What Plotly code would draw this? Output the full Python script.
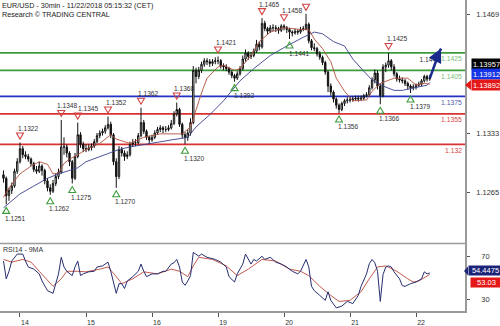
import plotly.graph_objects as go

FONT = "Liberation Sans, Arial, sans-serif"

# ---------------- data (hourly bars, index 0 = 14 Nov 00:00) ----------------
bar_start = -6
opens = [1.1285, 1.1281, 1.1261, 1.1267, 1.1272, 1.1289, 1.1300, 1.1315, 1.1308, 1.1306,
         1.1303, 1.1298, 1.1291, 1.1289, 1.1295, 1.1290, 1.1278, 1.1270, 1.1266, 1.1275,
         1.1283, 1.1288, 1.1317, 1.1317, 1.1310, 1.1300, 1.1281, 1.1306, 1.1331, 1.1320,
         1.1315, 1.1314, 1.1316, 1.1318, 1.1323, 1.1330, 1.1333, 1.1335, 1.1339, 1.1343,
         1.1331, 1.1300, 1.1283, 1.1314, 1.1310, 1.1306, 1.1308, 1.1320, 1.1322, 1.1322,
         1.1330, 1.1345, 1.1335, 1.1328, 1.1325, 1.1328, 1.1333, 1.1337, 1.1339, 1.1337,
         1.1337, 1.1339, 1.1344, 1.1355, 1.1360, 1.1343, 1.1331, 1.1328, 1.1333, 1.1345,
         1.1405, 1.1398, 1.1405, 1.1412, 1.1416, 1.1415, 1.1413, 1.1415, 1.1416, 1.1416,
         1.1410, 1.1409, 1.1407, 1.1403, 1.1399, 1.1396, 1.1401, 1.1407, 1.1418, 1.1425,
         1.1421, 1.1422, 1.1427, 1.1435, 1.1432, 1.1459, 1.1453, 1.1450, 1.1454, 1.1454,
         1.1453, 1.1451, 1.1456, 1.1454, 1.1452, 1.1449, 1.1448, 1.1450, 1.1449, 1.1452,
         1.1453, 1.1458, 1.1439, 1.1431, 1.1430, 1.1424, 1.1420, 1.1414, 1.1403, 1.1387,
         1.1380, 1.1372, 1.1365, 1.1360, 1.1367, 1.1370, 1.1371, 1.1371, 1.1372, 1.1373,
         1.1372, 1.1373, 1.1376, 1.1377, 1.1385, 1.1394, 1.1402, 1.1387, 1.1376, 1.1409,
         1.1411, 1.1416, 1.1409, 1.1401, 1.1395, 1.1394, 1.1393, 1.1390, 1.1387, 1.1385,
         1.1386, 1.1388, 1.1389, 1.1393, 1.1398, 1.1395]
highs = [1.1290, 1.1283, 1.1270, 1.1276, 1.1292, 1.1304, 1.1322, 1.1318, 1.1312, 1.1309,
         1.1305, 1.1300, 1.1295, 1.1300, 1.1297, 1.1292, 1.1281, 1.1274, 1.1279, 1.1286,
         1.1292, 1.1348, 1.1328, 1.1320, 1.1312, 1.1302, 1.1310, 1.1345, 1.1334, 1.1323,
         1.1320, 1.1320, 1.1321, 1.1326, 1.1333, 1.1336, 1.1338, 1.1342, 1.1352, 1.1346,
         1.1333, 1.1304, 1.1318, 1.1317, 1.1313, 1.1312, 1.1323, 1.1326, 1.1326, 1.1333,
         1.1362, 1.1348, 1.1337, 1.1330, 1.1331, 1.1336, 1.1340, 1.1342, 1.1341, 1.1341,
         1.1342, 1.1348, 1.1358, 1.1368, 1.1362, 1.1345, 1.1334, 1.1337, 1.1350, 1.1410,
         1.1408, 1.1409, 1.1415, 1.1419, 1.1419, 1.1418, 1.1418, 1.1420, 1.1421, 1.1418,
         1.1413, 1.1412, 1.1409, 1.1405, 1.1401, 1.1404, 1.1410, 1.1422, 1.1429, 1.1427,
         1.1426, 1.1430, 1.1440, 1.1438, 1.1465, 1.1462, 1.1455, 1.1457, 1.1458, 1.1457,
         1.1455, 1.1458, 1.1458, 1.1456, 1.1454, 1.1451, 1.1453, 1.1452, 1.1455, 1.1456,
         1.1470, 1.1460, 1.1441, 1.1436, 1.1432, 1.1427, 1.1422, 1.1416, 1.1405, 1.1390,
         1.1382, 1.1374, 1.1367, 1.1369, 1.1372, 1.1374, 1.1375, 1.1375, 1.1376, 1.1376,
         1.1376, 1.1378, 1.1380, 1.1388, 1.1397, 1.1406, 1.1405, 1.1390, 1.1412, 1.1414,
         1.1425, 1.1418, 1.1412, 1.1403, 1.1399, 1.1397, 1.1395, 1.1392, 1.1389, 1.1389,
         1.1390, 1.1392, 1.1395, 1.1400, 1.1400, 1.1400]
lows = [1.1276, 1.1251, 1.1255, 1.1263, 1.1270, 1.1286, 1.1298, 1.1304, 1.1303, 1.1300,
        1.1295, 1.1288, 1.1286, 1.1287, 1.1284, 1.1274, 1.1266, 1.1262, 1.1264, 1.1272,
        1.1280, 1.1286, 1.1308, 1.1305, 1.1295, 1.1275, 1.1279, 1.1304, 1.1316, 1.1311,
        1.1311, 1.1312, 1.1313, 1.1316, 1.1321, 1.1327, 1.1330, 1.1332, 1.1337, 1.1327,
        1.1296, 1.1270, 1.1280, 1.1306, 1.1301, 1.1303, 1.1306, 1.1317, 1.1318, 1.1320,
        1.1328, 1.1332, 1.1325, 1.1321, 1.1323, 1.1326, 1.1331, 1.1334, 1.1333, 1.1334,
        1.1335, 1.1337, 1.1342, 1.1352, 1.1340, 1.1327, 1.1320, 1.1324, 1.1330, 1.1343,
        1.1390, 1.1395, 1.1402, 1.1409, 1.1411, 1.1409, 1.1410, 1.1412, 1.1412, 1.1407,
        1.1405, 1.1404, 1.1400, 1.1396, 1.1392, 1.1394, 1.1399, 1.1405, 1.1415, 1.1417,
        1.1418, 1.1420, 1.1425, 1.1428, 1.1430, 1.1450, 1.1446, 1.1448, 1.1450, 1.1449,
        1.1447, 1.1449, 1.1451, 1.1448, 1.1441, 1.1444, 1.1446, 1.1446, 1.1447, 1.1450,
        1.1451, 1.1436, 1.1428, 1.1427, 1.1421, 1.1417, 1.1411, 1.1400, 1.1380, 1.1376,
        1.1368, 1.1361, 1.1356, 1.1358, 1.1364, 1.1367, 1.1368, 1.1369, 1.1370, 1.1369,
        1.1370, 1.1371, 1.1374, 1.1375, 1.1383, 1.1390, 1.1383, 1.1366, 1.1374, 1.1403,
        1.1408, 1.1405, 1.1398, 1.1392, 1.1391, 1.1390, 1.1387, 1.1383, 1.1379, 1.1382,
        1.1383, 1.1386, 1.1387, 1.1391, 1.1392, 1.1393]
closes = [1.1281, 1.1261, 1.1267, 1.1272, 1.1289, 1.1300, 1.1315, 1.1308, 1.1306, 1.1303,
          1.1298, 1.1291, 1.1289, 1.1295, 1.1290, 1.1278, 1.1270, 1.1266, 1.1275, 1.1283,
          1.1288, 1.1317, 1.1317, 1.1310, 1.1300, 1.1281, 1.1306, 1.1331, 1.1320, 1.1315,
          1.1314, 1.1316, 1.1318, 1.1323, 1.1330, 1.1333, 1.1335, 1.1339, 1.1343, 1.1331,
          1.1300, 1.1283, 1.1314, 1.1310, 1.1306, 1.1308, 1.1320, 1.1322, 1.1322, 1.1330,
          1.1345, 1.1335, 1.1328, 1.1325, 1.1328, 1.1333, 1.1337, 1.1339, 1.1337, 1.1337,
          1.1339, 1.1344, 1.1355, 1.1360, 1.1343, 1.1331, 1.1328, 1.1333, 1.1345, 1.1405,
          1.1398, 1.1405, 1.1412, 1.1416, 1.1415, 1.1413, 1.1415, 1.1416, 1.1416, 1.1410,
          1.1409, 1.1407, 1.1403, 1.1399, 1.1396, 1.1401, 1.1407, 1.1418, 1.1425, 1.1421,
          1.1422, 1.1427, 1.1435, 1.1432, 1.1459, 1.1453, 1.1450, 1.1454, 1.1454, 1.1453,
          1.1451, 1.1456, 1.1454, 1.1452, 1.1449, 1.1448, 1.1450, 1.1449, 1.1452, 1.1453,
          1.1458, 1.1439, 1.1431, 1.1430, 1.1424, 1.1420, 1.1414, 1.1403, 1.1387, 1.1380,
          1.1372, 1.1365, 1.1360, 1.1367, 1.1370, 1.1371, 1.1371, 1.1372, 1.1373, 1.1372,
          1.1373, 1.1376, 1.1377, 1.1385, 1.1394, 1.1402, 1.1387, 1.1376, 1.1409, 1.1411,
          1.1416, 1.1409, 1.1401, 1.1395, 1.1394, 1.1393, 1.1390, 1.1387, 1.1385, 1.1386,
          1.1388, 1.1389, 1.1393, 1.1398, 1.1395, 1.13957]
bars = list(range(bar_start, bar_start + len(closes)))

ma_fast_x = [-6, -4, 0, 4, 7, 10, 12, 14, 16, 18, 21, 24, 29, 33, 35, 36, 40, 45, 51, 56,
             59, 62, 64, 66, 68, 72, 74, 78, 80, 84, 87, 91, 96, 102, 105, 107, 110, 113, 115, 118,
             121, 126, 128, 131, 136, 141, 144, 147, 149]
ma_fast = [1.1259, 1.1270, 1.1286, 1.1295, 1.1300, 1.1297, 1.1286, 1.1287, 1.1298, 1.1303,
           1.1308, 1.1314, 1.1321, 1.1331, 1.1326, 1.1325, 1.1321, 1.1328, 1.1332, 1.1332,
           1.1332, 1.1340, 1.1360, 1.1379, 1.1396, 1.1409, 1.1411, 1.1405, 1.1407, 1.1422,
           1.1438, 1.1449, 1.1454, 1.1452, 1.1452, 1.1441, 1.1430, 1.1415, 1.1396, 1.1381,
           1.1370, 1.1371, 1.1381, 1.1390, 1.1396, 1.1396, 1.1388, 1.1390, 1.13892]
ma_slow_x = [-6, 0, 5, 10, 14, 17, 21, 24, 29, 34, 36, 40, 47, 55, 61, 64, 69, 74, 80, 85,
             91, 97, 103, 107, 110, 114, 118, 121, 125, 128, 132, 136, 139, 143, 148, 149]
ma_slow = [1.1247, 1.1263, 1.1272, 1.1281, 1.1286, 1.1289, 1.1293, 1.1300, 1.1306, 1.1312,
           1.1314, 1.1317, 1.1321, 1.1325, 1.1328, 1.1340, 1.1354, 1.1370, 1.1393, 1.1407,
           1.1422, 1.1433, 1.1443, 1.1449, 1.1447, 1.1438, 1.1433, 1.1418, 1.1404, 1.1394,
           1.1387, 1.1382, 1.1382, 1.1385, 1.1388, 1.13912]

rsi_x = [-6, -5, -4, -3, -1, 0, 1, 2, 3, 5,
         7, 8, 10, 12, 13, 14, 15, 16, 17, 19,
         20, 21, 22, 23, 25, 27, 28, 30, 32, 33,
         35, 36, 37, 38, 39, 41, 43, 44, 45, 46,
         48, 50, 52, 53, 55, 56, 57, 58, 59, 60,
         61, 62, 63, 64, 65, 66, 68, 71, 73, 75,
         76, 78, 79, 81, 82, 84, 85, 86, 88, 89,
         91, 93, 95, 97, 99, 101, 102, 104, 105, 106,
         107, 109, 111, 112, 113, 115, 117, 119, 121, 123,
         124, 126, 127, 128, 129, 130, 131, 132, 133, 134,
         135, 136, 138, 139, 140, 142, 144, 146, 147, 148,
         149]
rsi_vals = [65.5, 49, 56, 65.5, 72, 72, 72, 65.5, 60, 58,
            53.6, 47, 38, 35.5, 44.5, 53.6, 69, 60, 56, 52,
            60, 65.5, 52, 53.6, 55.5, 56, 60, 61, 64.5, 56,
            35.5, 44.5, 44.5, 40, 47, 51, 56, 62.7, 56, 51,
            53.6, 53.6, 56, 56, 62.7, 64, 67, 60, 46, 43,
            47, 52, 73.6, 72, 70, 72, 69, 67, 64.5, 60,
            51, 46, 53.6, 62.7, 72, 62.7, 67, 65.5, 70, 67,
            69, 64.5, 62.7, 60, 56, 53.6, 56, 67, 60, 42,
            38, 33.6, 29, 37, 29, 22, 23.6, 28, 26, 33.6,
            42, 53.6, 63, 67, 64, 56, 28, 53, 60, 61,
            60, 55.5, 49, 42.7, 42, 44.5, 46, 49, 55.5, 53.6,
            54.4475]
rsi_ma_x = [-6, -3, 1, 4, 7, 10, 12, 15, 17, 21, 24, 29, 32, 35, 37, 41, 45, 50, 55, 58,
            61, 63, 65, 70, 75, 79, 83, 88, 93, 98, 102, 105, 109, 113, 116, 120, 124, 127, 130, 133,
            137, 141, 143, 145, 149]
rsi_ma = [67, 64.5, 67, 64.5, 56, 47, 42, 49, 56, 56, 55.5, 58, 60, 51, 44.5, 49, 55.5, 53.6, 58, 56,
          51, 61, 69, 67, 61, 52, 58, 67, 65.5, 58, 56, 52, 42, 33.6, 28, 29, 37, 49, 60, 61,
          56, 49, 46, 47, 53.03]

# pivots
pivot_high_x = [0, 15, 21, 32, 44, 57, 72, 88, 96, 104, 134]
pivot_high_vals = [1.1322, 1.1348, 1.1345, 1.1352, 1.1362, 1.1368, 1.1421, 1.1465, 1.1458, 1.1470, 1.1425]
pivot_high_labels = ["1.1322", "1.1348", "1.1345", "1.1352", "1.1362", "1.1368", "1.1421",
                     "1.1465", "1.1458", "", "1.1425"]
pivot_low_x = [-5, 11, 19, 35, 60, 78, 98, 116, 131, 142]
pivot_low_vals = [1.1251, 1.1262, 1.1275, 1.1270, 1.1320, 1.1392, 1.1441, 1.1356, 1.1366, 1.1379]
pivot_low_labels = ["1.1251", "1.1262", "1.1275", "1.1270", "1.1320", "1.1392", "1.1441",
                    "1.1356", "1.1366", "1.1379"]

# support / resistance levels
levels = [1.1425, 1.1405, 1.1375, 1.1355, 1.1320]
level_labels = ["1.1425", "1.1405", "1.1375", "1.1355", "1.132"]
level_colors = ["#3c9c3c", "#3c9c3c", "#2233c4", "#d83232", "#d83232"]
level_text_colors = ["#7cc07c", "#7cc07c", "#5060a8", "#d84848", "#d84848"]

# projection arrow
proj_x = [149, 149.8, 150.5, 151.3, 152.0]
proj_y = [1.13957, 1.1404, 1.1409, 1.1416, 1.1423]
proj_tip = (153.1, 1.1430)
proj_label = "1.1440"
proj_label_pos = (145.3, 1.1417)

# day ticks
day_ticks = [0, 24, 48, 72, 96, 120, 144]
day_labels = ["14", "15", "16", "19", "20", "21", "22"]
price_ticks = [1.1265, 1.1333, 1.1469]
rsi_ticks = [30, 70]

# last-value boxes
last_close = 1.13957
last_slow = 1.13912
last_fast = 1.13892
last_rsi = 54.4475
last_rsi_ma = 53.03

# ---------------- figure ----------------
fig = go.Figure()

fig.add_trace(go.Scatter(x=ma_slow_x, y=ma_slow, mode="lines",
                         line=dict(color="#3a3f8c", width=0.9), hoverinfo="skip"))
fig.add_trace(go.Scatter(x=ma_fast_x, y=ma_fast, mode="lines",
                         line=dict(color="#b0503c", width=0.9), hoverinfo="skip"))
fig.add_trace(go.Candlestick(
    x=bars, open=opens, high=highs, low=lows, close=closes,
    increasing=dict(line=dict(color="#111111", width=1), fillcolor="white"),
    decreasing=dict(line=dict(color="#111111", width=1), fillcolor="#111111"),
    whiskerwidth=0, hoverinfo="skip"))

fig.add_trace(go.Scatter(x=[proj_label_pos[0]], y=[proj_label_pos[1]], mode="text",
                         text=[proj_label], textposition="middle right",
                         textfont=dict(size=6.6, color="#333333", family=FONT), hoverinfo="skip"))
fig.add_trace(go.Scatter(x=proj_x + [proj_tip[0]], y=proj_y + [proj_tip[1]], mode="lines",
                         line=dict(color="#1a2a8c", width=2.5), hoverinfo="skip"))

fig.add_trace(go.Scatter(x=rsi_ma_x, y=rsi_ma, mode="lines", yaxis="y2",
                         line=dict(color="#c45a50", width=1), hoverinfo="skip"))
fig.add_trace(go.Scatter(x=rsi_x, y=rsi_vals, mode="lines", yaxis="y2",
                         line=dict(color="#262e70", width=1), hoverinfo="skip"))

shapes = []
annotations = []

for lv, c in zip(levels, level_colors):
    shapes.append(dict(type="line", xref="paper", yref="y", x0=0, x1=1, y0=lv, y1=lv,
                       line=dict(color=c, width=1.8), layer="below"))
for lv, lab, tc in zip(levels, level_labels, level_text_colors):
    annotations.append(dict(text=lab, xref="paper", yref="y", x=1, y=lv, xanchor="right",
                            yanchor="middle", xshift=-2, yshift=-6, showarrow=False,
                            borderpad=0, font=dict(size=6.8, color=tc)))

high_xshift = [-3, -5, -1, -3, -4, -4, -3, -4, -3, -3, -3]
for x, v, lab, xs in zip(pivot_high_x, pivot_high_vals, pivot_high_labels, high_xshift):
    shapes.append(dict(type="path", xref="x", yref="y", xsizemode="pixel", ysizemode="pixel",
                       xanchor=x, yanchor=v, path="M -3.5,9.5 L 3.5,9.5 L 0,3.5 Z",
                       line=dict(color="#d04545", width=1.1), fillcolor="rgba(0,0,0,0)"))
    if lab:
        annotations.append(dict(text=lab, xref="x", yref="y", x=x, y=v, xanchor="left",
                                yanchor="middle", xshift=xs, yshift=14, showarrow=False,
                                borderpad=0, font=dict(size=6.6, color="#333333")))
for x, v, lab in zip(pivot_low_x, pivot_low_vals, pivot_low_labels):
    shapes.append(dict(type="path", xref="x", yref="y", xsizemode="pixel", ysizemode="pixel",
                       xanchor=x, yanchor=v, path="M -3.5,-9 L 3.5,-9 L 0,-3 Z",
                       line=dict(color="#3c9c3c", width=1.1), fillcolor="rgba(0,0,0,0)"))
    annotations.append(dict(text=lab, xref="x", yref="y", x=x, y=v, xanchor="left",
                            yanchor="middle", xshift=-2, yshift=-14, showarrow=False,
                            borderpad=0, font=dict(size=6.6, color="#333333")))

# arrow head of projection
annotations.append(dict(text="", x=proj_tip[0], y=proj_tip[1], ax=proj_x[-1], ay=proj_y[-1],
                        xref="x", yref="y", axref="x", ayref="y", showarrow=True,
                        arrowhead=2, arrowsize=1.1, arrowwidth=2.5, arrowcolor="#1a2a8c"))

# panel separator
shapes.append(dict(type="line", xref="paper", yref="paper", x0=0, x1=1, y0=0.217, y1=0.217,
                   line=dict(color="#9a9a9a", width=1.5)))

# last value boxes
for val, txt, bg, ys, w in [(last_close, "1.13957", "#000000", 14, 29),
                            (last_slow, "1.13912", "#1434e6", 8, 29),
                            (last_fast, "1.13892", "#e41818", -1, 29)]:
    annotations.append(dict(text=txt, xref="paper", yref="y", x=1, y=val, xanchor="left",
                            yanchor="middle", xshift=6, yshift=ys, showarrow=False,
                            bgcolor=bg, borderpad=0, width=w, height=10,
                            font=dict(size=7.5, color="white")))
shapes.append(dict(type="path", xref="paper", yref="y", xsizemode="pixel", ysizemode="pixel",
                   xanchor=1, yanchor=last_fast, path="M 0,-1 L 6,4 L 6,-6 Z",
                   line=dict(color="#e41818", width=0), fillcolor="#e41818"))

for val, txt, bg, ys, xs, w in [(last_rsi, "54.4475", "#1c2478", 2, 3, 33),
                                (last_rsi_ma, "53.03", "#e41818", -8, 5, 31)]:
    annotations.append(dict(text=txt, xref="paper", yref="y2", x=1, y=val, xanchor="left",
                            yanchor="middle", xshift=xs, yshift=ys, showarrow=False,
                            bgcolor=bg, borderpad=0, width=w, height=9,
                            font=dict(size=7.5, color="white")))
shapes.append(dict(type="path", xref="paper", yref="y2", xsizemode="pixel", ysizemode="pixel",
                   xanchor=1, yanchor=last_rsi, path="M -1,2 L 3,6.5 L 3,-2.5 Z",
                   line=dict(color="#1c2478", width=0), fillcolor="#1c2478"))

# titles
annotations.append(dict(text="EUR/USD - 30min - 11/22/2018 05:15:32 (CET)", xref="paper", yref="paper",
                        x=0, y=1, xanchor="left", yanchor="middle", xshift=1, yshift=-5,
                        showarrow=False, borderpad=0, font=dict(size=7.2, color="#222222")))
annotations.append(dict(text="Research © TRADING CENTRAL", xref="paper", yref="paper",
                        x=0, y=1, xanchor="left", yanchor="middle", xshift=1, yshift=-14,
                        showarrow=False, borderpad=0, font=dict(size=7.2, color="#222222")))
annotations.append(dict(text="RSI14 - 9MA", xref="paper", yref="paper",
                        x=0, y=0.217, xanchor="left", yanchor="middle", xshift=2, yshift=-6,
                        showarrow=False, borderpad=0, font=dict(size=7, color="#333333")))

fig.update_layout(
    width=500, height=326,
    margin=dict(l=0, r=35, t=0, b=8, pad=0),
    paper_bgcolor="white", plot_bgcolor="white",
    showlegend=False,
    font=dict(family=FONT, size=7, color="#333333"),
    shapes=shapes, annotations=annotations,
    xaxis=dict(domain=[0, 1], range=[-7.27, 161.8], anchor="y2",
               tickvals=day_ticks, ticktext=day_labels, ticks="outside", ticklen=4,
               tickcolor="#555555", showline=True, linecolor="#9a9a9a", linewidth=1.5,
               showgrid=False, zeroline=False, rangeslider=dict(visible=False),
               tickfont=dict(size=7, color="#333333"), ticklabelshift=5),
    yaxis=dict(domain=[0.217, 1], range=[1.120599, 1.148586], side="right", anchor="x",
               tickvals=price_ticks, ticktext=[f"{t:.4f}" for t in price_ticks],
               ticks="outside", ticklen=3, tickcolor="#555555",
               showline=True, linecolor="#9a9a9a", linewidth=1.5,
               showgrid=False, zeroline=False, tickfont=dict(size=7.5, color="#333333"),
               ticklabelstandoff=5),
    yaxis2=dict(domain=[0, 0.217], range=[19.1, 81.8], side="right", anchor="x",
                tickvals=rsi_ticks, ticks="outside", ticklen=3, tickcolor="#555555",
                showline=True, linecolor="#9a9a9a", linewidth=1.5,
                showgrid=False, zeroline=False, tickfont=dict(size=7.5, color="#333333"),
                ticklabelstandoff=10),
)

fig.write_html("out.html")
